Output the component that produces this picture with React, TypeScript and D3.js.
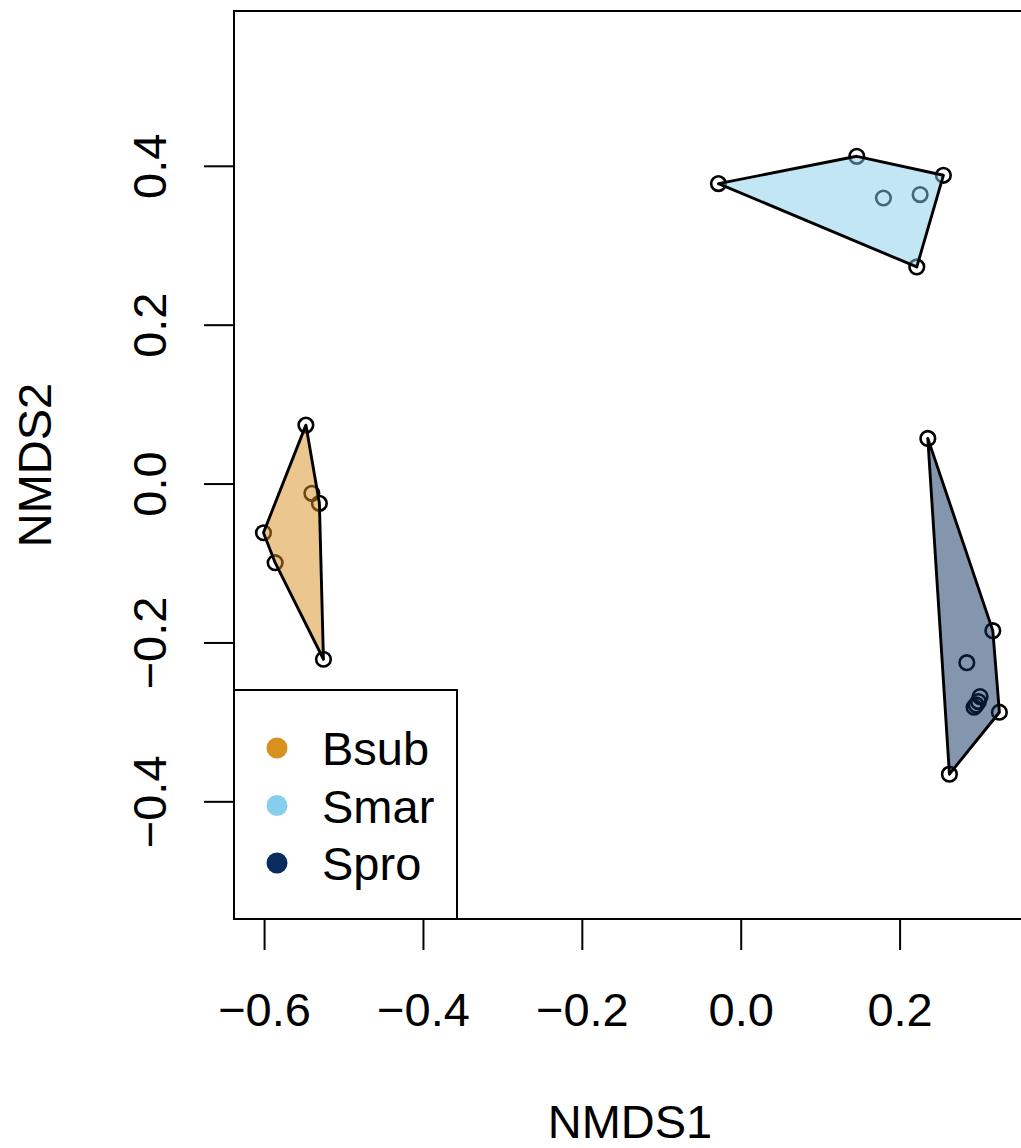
import * as d3 from "d3";

const groups = ["Bsub", "Smar", "Spro"];
const groupColors = ["#D8901F", "#87CEEB", "#0A2B5E"];

// NMDS scores per group
const bsubX = [-0.548, -0.5405, -0.531, -0.6014, -0.5867, -0.5259];
const bsubY = [0.0742, -0.0117, -0.0243, -0.0613, -0.099, -0.2205];
const smarX = [-0.0287, 0.1455, 0.2545, 0.179, 0.2252, 0.221];
const smarY = [0.3782, 0.4126, 0.3887, 0.3601, 0.3644, 0.2733];
const sproX = [0.2349, 0.3167, 0.284, 0.3007, 0.2986, 0.2957, 0.2931, 0.325, 0.2621];
const sproY = [0.0575, -0.1845, -0.2248, -0.2675, -0.2738, -0.278, -0.2809, -0.2872, -0.3652];

const xTicks = [-0.6, -0.4, -0.2, 0.0, 0.2];
const yTicks = [-0.4, -0.2, 0.0, 0.2, 0.4];

const W = 1021;
const H = 1148;
const left = 234;
const right = 1026;
const top = 11;
const bottom = 919;
const FONT = "'Liberation Sans', Arial, Helvetica, sans-serif";
const FS = 47;

export default function App() {
  const x = d3.scaleLinear().domain([-0.6385, 0.3585]).range([left, right]);
  const y = d3.scaleLinear().domain([-0.5475, 0.5955]).range([bottom, top]);
  const fmt = d3.format(".1f");

  const series = [
    { name: groups[0], color: groupColors[0], xs: bsubX, ys: bsubY },
    { name: groups[1], color: groupColors[1], xs: smarX, ys: smarY },
    { name: groups[2], color: groupColors[2], xs: sproX, ys: sproY },
  ];

  const line = d3.line();

  return (
    <svg
      width={W}
      height={H}
      style={{ position: "absolute", left: 0, top: 0, background: "#fff" }}
      fontFamily={FONT}
    >
      <rect width={W} height={H} fill="#fff" />
      {series.map((s) => {
        const pts = s.xs.map((v, i) => [x(v), y(s.ys[i])] as [number, number]);
        const hull = d3.polygonHull(pts) || pts;
        return (
          <g key={s.name}>
            {pts.map((p, i) => (
              <circle
                key={i}
                cx={p[0]}
                cy={p[1]}
                r={7.3}
                fill="none"
                stroke="#000"
                strokeWidth={2.6}
              />
            ))}
            <path
              d={line(hull) + "Z"}
              fill={s.color}
              fillOpacity={0.5}
              stroke="#000"
              strokeWidth={2.9}
              strokeLinejoin="round"
            />
          </g>
        );
      })}

      {/* plot box */}
      <rect
        x={left}
        y={top}
        width={right - left}
        height={bottom - top}
        fill="none"
        stroke="#000"
        strokeWidth={2}
      />

      {/* x axis */}
      <line
        x1={x(xTicks[0])}
        x2={x(xTicks[xTicks.length - 1])}
        y1={bottom}
        y2={bottom}
        stroke="#000"
        strokeWidth={2}
      />
      {xTicks.map((t) => (
        <g key={t}>
          <line x1={x(t)} x2={x(t)} y1={bottom} y2={bottom + 31} stroke="#000" strokeWidth={2} />
          <text x={x(t)} y={1026} textAnchor="middle" fontSize={FS}>
            {fmt(t)}
          </text>
        </g>
      ))}
      <text x={(left + right) / 2} y={1138} textAnchor="middle" fontSize={FS}>
        NMDS1
      </text>

      {/* y axis */}
      <line
        x1={left}
        x2={left}
        y1={y(yTicks[0])}
        y2={y(yTicks[yTicks.length - 1])}
        stroke="#000"
        strokeWidth={2}
      />
      {yTicks.map((t) => (
        <g key={t}>
          <line x1={left - 30} x2={left} y1={y(t)} y2={y(t)} stroke="#000" strokeWidth={2} />
          <text
            transform={`translate(165.5,${y(t)}) rotate(-90)`}
            textAnchor="middle"
            fontSize={FS}
          >
            {fmt(t)}
          </text>
        </g>
      ))}
      <text
        transform={`translate(50.5,${(top + bottom) / 2}) rotate(-90)`}
        textAnchor="middle"
        fontSize={FS}
      >
        NMDS2
      </text>

      {/* legend */}
      <rect x={left} y={690} width={223} height={bottom - 690} fill="#fff" stroke="#000" strokeWidth={2} />
      {series.map((s, i) => (
        <g key={s.name} transform={`translate(0,${748 + i * 57.5})`}>
          <circle cx={277} cy={0} r={10.5} fill={s.color} />
          <text x={322} y={17} fontSize={FS}>
            {s.name}
          </text>
        </g>
      ))}
    </svg>
  );
}
